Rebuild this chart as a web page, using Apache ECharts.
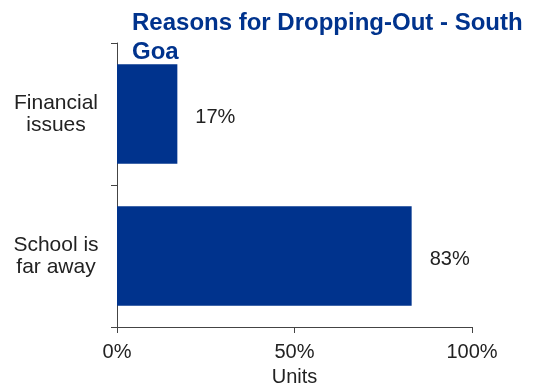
<!DOCTYPE html>
<html>
<head>
<meta charset="utf-8">
<script src="https://cdn.jsdelivr.net/npm/echarts@6/dist/echarts.min.js"></script>
<style>html,body{margin:0;padding:0;background:#fff;}#c{width:539px;height:387px;}</style>
</head>
<body>
<div id="c"></div>
<script>
const titleText = 'Reasons for Dropping-Out - South\nGoa';
const categories = ['Financial\nissues', 'School is\nfar away'];
const values = [17, 83];
const xTicks = [0, 50, 100];
const xAxisName = 'Units';

const chart = echarts.init(document.getElementById('c'), null, {renderer: 'canvas'});
const font = 'Arial, "Liberation Sans", sans-serif';
chart.setOption({
  animation: false,
  title: {
    text: titleText,
    left: 132, top: 9, padding: 0,
    textStyle: {fontFamily: font, fontSize: 24, fontWeight: 'bold', color: '#00338D', lineHeight: 29}
  },
  grid: {left: 117, right: 67, top: 43, bottom: 60, containLabel: false, outerBoundsMode: 'none'},
  xAxis: {
    type: 'value', min: xTicks[0], max: xTicks[xTicks.length - 1], interval: 50,
    name: xAxisName, nameLocation: 'middle', nameGap: 40,
    nameTextStyle: {fontFamily: font, fontSize: 20, color: '#222'},
    axisLine: {show: true, lineStyle: {color: '#444', width: 1}},
    axisTick: {show: true, length: 6, lineStyle: {color: '#444'}},
    axisLabel: {fontFamily: font, fontSize: 20, color: '#222', margin: 15, formatter: v => v + '%'},
    splitLine: {show: false}
  },
  yAxis: {
    type: 'category', data: categories, inverse: true,
    axisLine: {show: true, lineStyle: {color: '#444', width: 1}},
    axisTick: {show: true, length: 6, lineStyle: {color: '#444'}},
    axisLabel: {fontFamily: font, fontSize: 21, color: '#222', margin: 61, lineHeight: 22, align: 'center', padding: [3, 0, 0, 0]},
    splitLine: {show: false}
  },
  series: [{
    type: 'bar', data: values, barCategoryGap: '30%',
    itemStyle: {color: '#00338D'},
    label: {show: true, position: 'right', distance: 18, offset: [0, 3], fontFamily: font, fontSize: 20, color: '#222', formatter: p => p.value + '%'}
  }]
});
</script>
</body>
</html>
